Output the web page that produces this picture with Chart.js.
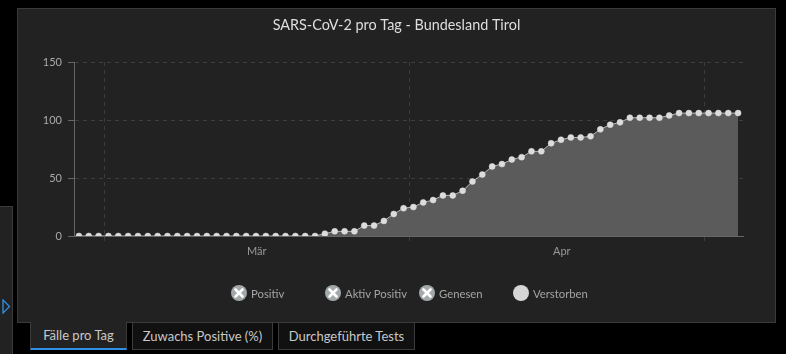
<!DOCTYPE html>
<html>
<head>
<meta charset="utf-8">
<script src="https://cdn.jsdelivr.net/npm/chart.js@4/dist/chart.umd.min.js"></script>
<style>
  html, body { margin: 0; padding: 0; background: #000; width: 786px; height: 354px; overflow: hidden; font-family: Lato, "Open Sans", sans-serif; }
  .side { position: absolute; left: 0; top: 206px; width: 13px; height: 148px; box-sizing: border-box; background: #222; border-top: 1px solid #3b3b3b; border-right: 1px solid #3b3b3b; }
  .side svg { position: absolute; left: 2px; top: 92px; }
  .panel { position: absolute; left: 17px; top: 8px; width: 759px; height: 315px; box-sizing: border-box; background: #222; border: 1px solid #3b3b3b; }
  .panel canvas { position: absolute; left: 0; top: 0; }
  .legend { position: absolute; left: 213px; top: 276px; display: flex; }
  .legend .item { width: 94px; display: flex; align-items: center; font-size: 11.3px; color: #a4a4a4; }
  .legend .dot { width: 16px; height: 16px; border-radius: 50%; margin-right: 4px; position: relative; }
  .tabs { position: absolute; left: 30px; top: 322px; display: flex; }
  .tab { height: 28px; box-sizing: border-box; border: 1px solid #3b3b3b; background: #111; color: #c8c8c8; font-size: 13px; line-height: 26px; text-align: center; margin-right: 5px; }
  .tab.active { background: #222; border-top: none; border-bottom: 2px solid #2f8fe6; }
</style>
</head>
<body>
<div class="side">
  <svg width="9" height="15" viewBox="0 0 9 15"><polygon points="1,1 7.5,7.5 1,14" fill="none" stroke="#2f8fe6" stroke-width="1.3"/></svg>
</div>
<div class="panel">
  <canvas id="chart" width="757" height="313"></canvas>
  <div class="legend" id="legend"></div>
</div>
<div class="tabs" id="tabs"></div>
<script>
// Daily dates (2020), first to last point
const DATES = [
  "02-27","02-28","02-29",
  "03-01","03-02","03-03","03-04","03-05","03-06","03-07","03-08","03-09","03-10",
  "03-11","03-12","03-13","03-14","03-15","03-16","03-17","03-18","03-19","03-20",
  "03-21","03-22","03-23","03-24","03-25","03-26","03-27","03-28","03-29","03-30","03-31",
  "04-01","04-02","04-03","04-04","04-05","04-06","04-07","04-08","04-09","04-10",
  "04-11","04-12","04-13","04-14","04-15","04-16","04-17","04-18","04-19","04-20",
  "04-21","04-22","04-23","04-24","04-25","04-26","04-27","04-28","04-29","04-30",
  "05-01","05-02","05-03","05-04"
];
// Verstorben (cumulative)
const VERSTORBEN = [
  0,0,0,
  0,0,0,0,0,0,0,0,0,0,
  0,0,0,0,0,0,0,0,0,0,
  0,0,2,4,4,4,9,9,13,19,24,
  25,29,31,35,35,39,47,53,60,62,
  66,68,73,73,80,83,85,85,86,92,
  96,98,102,102,102,102,104,106,106,106,
  106,106,106,106
];
const MONTH_STARTS = ["03-01", "04-01", "05-01"];
const MONTH_LABELS = ["Mär", "Apr"];
const Y_TICKS = [0, 50, 100, 150];
const LEGEND_ITEMS = [
  { label: "Positiv", hidden: true },
  { label: "Aktiv Positiv", hidden: true },
  { label: "Genesen", hidden: true },
  { label: "Verstorben", hidden: false }
];
const TABS = ["Fälle pro Tag", "Zuwachs Positive (%)", "Durchgeführte Tests"];

const TITLE = "SARS-CoV-2 pro Tag - Bundesland Tirol";
const POINT_HOUR = 10; // points sit at ~10:00 of each day

function dayNum(md) {
  const [m, d] = md.split("-").map(Number);
  return (Date.UTC(2020, m - 1, d) - Date.UTC(2020, 2, 1)) / 86400000;
}

const xs = DATES.map(d => dayNum(d) + POINT_HOUR / 24);
const points = VERSTORBEN.map((v, i) => ({ x: xs[i], y: v }));
const bounds = MONTH_STARTS.map(dayNum);
const mids = bounds.slice(0, -1).map(b => b + 15.5);

const gridCol = "#3d3d3d";
const axisCol = "#666";

new Chart(document.getElementById("chart"), {
  type: "line",
  data: {
    datasets: [{
      label: "Verstorben",
      data: points,
      borderColor: "#b8b8b8",
      borderWidth: 1,
      backgroundColor: "#5b5b5b",
      fill: "origin",
      tension: 0,
      pointRadius: 3,
      pointBorderWidth: 0.5,
      pointBackgroundColor: "#dcdcdc",
      pointBorderColor: "#dcdcdc"
    }]
  },
  options: {
    responsive: false,
    animation: false,
    layout: { padding: { left: 0, right: 0, top: 0, bottom: 56 } },
    plugins: {
      legend: { display: false },
      tooltip: { enabled: false },
      title: {
        display: true,
        text: TITLE,
        color: "#dedede",
        font: { family: "Lato", size: 14.4, weight: "normal" },
        padding: { top: 7.4, bottom: 28.4 }
      }
    },
    scales: {
      x: {
        type: "linear",
        min: xs[0] - 0.5,
        max: xs[xs.length - 1] + 0.5,
        afterBuildTicks: s => { s.ticks = [...bounds, ...mids].sort((a, b) => a - b).map(v => ({ value: v })); },
        afterFit: s => { s.height = 30; },
        grid: {
          color: c => bounds.includes(c.tick && c.tick.value) ? gridCol : "rgba(0,0,0,0)",
          tickColor: c => bounds.includes(c.tick && c.tick.value) ? gridCol : "rgba(0,0,0,0)",
          tickLength: 5
        },
        border: { color: axisCol, dash: [4, 4] },
        ticks: {
          color: "#999",
          font: { family: "Lato", size: 11 },
          padding: 4,
          maxRotation: 0,
          autoSkip: false,
          callback: v => { const i = mids.indexOf(v); return i >= 0 ? MONTH_LABELS[i] : ""; }
        }
      },
      y: {
        min: 0,
        max: 150,
        afterBuildTicks: s => { s.ticks = Y_TICKS.map(v => ({ value: v })); },
        afterFit: s => { s.width = 56; },
        grid: {
          color: c => c.tick && c.tick.value === 0 ? "rgba(0,0,0,0)" : gridCol,
          tickColor: axisCol,
          tickLength: 6
        },
        border: { color: axisCol, dash: [4, 4] },
        ticks: {
          color: "#aaa",
          font: { family: "Lato", size: 11 },
          padding: 6
        }
      },
      // empty right-hand spacer so the title stays centred on the panel
      yRight: {
        position: "right",
        min: 0,
        max: 1,
        afterFit: s => { s.width = 32; },
        grid: { display: false },
        border: { display: false },
        ticks: { display: false }
      }
    }
  }
});

// legend
const legend = document.getElementById("legend");
LEGEND_ITEMS.forEach(it => {
  const el = document.createElement("div");
  el.className = "item";
  const dot = it.hidden
    ? `<span class="dot" style="background:#a3a9ab"><svg width="16" height="16" style="position:absolute;left:0;top:0"><path d="M4.5 4.5 L11.5 11.5 M11.5 4.5 L4.5 11.5" stroke="#fff" stroke-width="2.6" stroke-linecap="round"/></svg></span>`
    : `<span class="dot" style="background:#d6d6d6"></span>`;
  el.innerHTML = dot + `<span>${it.label}</span>`;
  legend.appendChild(el);
});

// tabs
const tabWidths = [97, 141, 137];
const tabs = document.getElementById("tabs");
TABS.forEach((t, i) => {
  const el = document.createElement("div");
  el.className = "tab" + (i === 0 ? " active" : "");
  el.style.width = tabWidths[i] + "px";
  el.textContent = t;
  tabs.appendChild(el);
});
</script>
</body>
</html>
